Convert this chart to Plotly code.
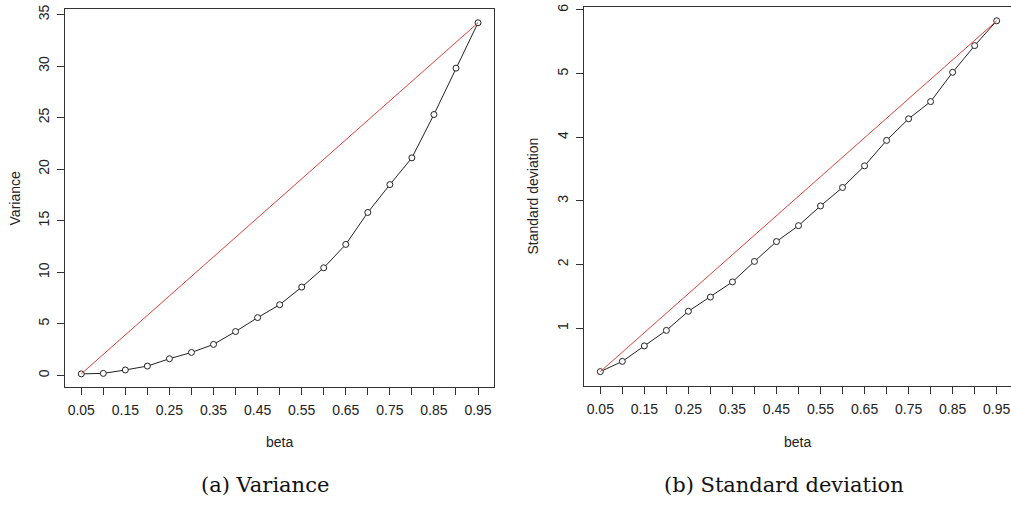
import plotly.graph_objects as go

# ---- data ----
beta = [0.05, 0.10, 0.15, 0.20, 0.25, 0.30, 0.35, 0.40, 0.45, 0.50,
        0.55, 0.60, 0.65, 0.70, 0.75, 0.80, 0.85, 0.90, 0.95]
variance = [0.14, 0.19, 0.52, 0.90, 1.61, 2.22, 3.00, 4.25, 5.60, 6.85,
            8.56, 10.43, 12.70, 15.80, 18.50, 21.10, 25.30, 29.80, 34.20]
std_dev = [0.316, 0.477, 0.72, 0.964, 1.264, 1.488, 1.726, 2.048, 2.36, 2.61,
           2.92, 3.21, 3.55, 3.95, 4.29, 4.56, 5.02, 5.44, 5.83]
x_tick_vals = beta
x_tick_text = ["0.05", "", "0.15", "", "0.25", "", "0.35", "", "0.45", "",
               "0.55", "", "0.65", "", "0.75", "", "0.85", "", "0.95"]
var_ticks = [0, 5, 10, 15, 20, 25, 30, 35]
sd_ticks = [1, 2, 3, 4, 5, 6]

W, H = 1011, 505
FONT = "Arial, Liberation Sans, sans-serif"
AX = "#333333"

def px_x(p):
    return p / W

def px_y(p):
    return 1 - p / H

fig = go.Figure()

# left panel
fig.add_trace(go.Scatter(x=beta, y=variance, mode="lines+markers",
                         line=dict(color="#222222", width=1),
                         marker=dict(symbol="circle", size=6, color="white",
                                     line=dict(color="#222222", width=1)),
                         xaxis="x", yaxis="y", showlegend=False))
fig.add_trace(go.Scatter(x=[beta[0], beta[-1]], y=[variance[0], variance[-1]],
                         mode="lines", line=dict(color="#e0403a", width=1),
                         xaxis="x", yaxis="y", showlegend=False))
# right panel
fig.add_trace(go.Scatter(x=beta, y=std_dev, mode="lines+markers",
                         line=dict(color="#222222", width=1),
                         marker=dict(symbol="circle", size=6, color="white",
                                     line=dict(color="#222222", width=1)),
                         xaxis="x2", yaxis="y2", showlegend=False))
fig.add_trace(go.Scatter(x=[beta[0], beta[-1]], y=[std_dev[0], std_dev[-1]],
                         mode="lines", line=dict(color="#e0403a", width=1),
                         xaxis="x2", yaxis="y2", showlegend=False))

common_x = dict(tickmode="array", tickvals=x_tick_vals, ticktext=x_tick_text,
                ticks="outside", ticklen=7, tickcolor=AX, tickwidth=1,
                showline=True, linecolor=AX, linewidth=1, showgrid=False,
                zeroline=False, ticklabelstandoff=3,
                tickfont=dict(family=FONT, size=14, color="#222"))
common_y = dict(tickmode="array", ticks="outside", ticklen=7, tickcolor=AX,
                tickwidth=1, showline=True, linecolor=AX, linewidth=1,
                showgrid=False, zeroline=False, tickangle=-90,
                ticklabelstandoff=3,
                tickfont=dict(family=FONT, size=14, color="#222"))

fig.update_layout(
    width=W, height=H, autosize=False,
    margin=dict(l=0, r=0, t=0, b=0),
    paper_bgcolor="white", plot_bgcolor="white",
    xaxis=dict(domain=[px_x(65.4), px_x(493.9)], range=[0.014, 0.986],
               anchor="y", mirror=True, **common_x),
    yaxis=dict(domain=[px_y(386.5), px_y(5)], range=[-1.174, 35.54],
               anchor="x", mirror=True, tickvals=var_ticks, **common_y),
    xaxis2=dict(domain=[px_x(584.4), 1.0], range=[0.0139, 0.9825],
                anchor="y2", mirror=True, **common_x),
    yaxis2=dict(domain=[px_y(385), px_y(3)], range=[0.091, 6.047],
                anchor="x2", mirror=False, tickvals=sd_ticks, **common_y),
)

ann = [
    dict(text="Variance", x=px_x(15), y=px_y(196), textangle=-90),
    dict(text="Standard deviation", x=px_x(533), y=px_y(194), textangle=-90),
    dict(text="beta", x=px_x(279.5), y=px_y(442)),
    dict(text="beta", x=px_x(797.7), y=px_y(442)),
]
for a in ann:
    fig.add_annotation(xref="paper", yref="paper", showarrow=False,
                       xanchor="center", yanchor="middle",
                       font=dict(family=FONT, size=14, color="#222"), **a)

fig.add_annotation(text="(a) Variance", x=px_x(264.5), y=px_y(485),
                   xref="paper", yref="paper", showarrow=False,
                   xanchor="center", yanchor="middle",
                   font=dict(family="DejaVu Serif, serif", size=21, color="#111"))
fig.add_annotation(text="(b) Standard deviation", x=px_x(784), y=px_y(485),
                   xref="paper", yref="paper", showarrow=False,
                   xanchor="center", yanchor="middle",
                   font=dict(family="DejaVu Serif, serif", size=21, color="#111"))

fig.write_html("out.html")
